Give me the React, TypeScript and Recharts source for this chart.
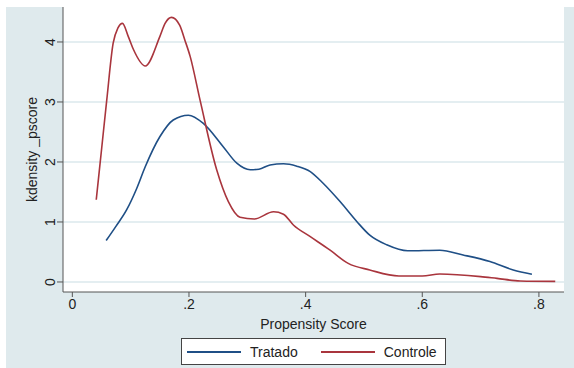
import React from "react";
import { LineChart, Line, XAxis, YAxis, CartesianGrid, Legend, Label } from "recharts";

// kernel density estimates of the propensity score, by group
const tratadoX = [0.058, 0.075, 0.093, 0.11, 0.125, 0.15, 0.173, 0.199, 0.225, 0.259, 0.282, 0.305, 0.32, 0.339, 0.362, 0.385, 0.408, 0.43, 0.459, 0.488, 0.51, 0.539, 0.575, 0.63, 0.67, 0.716, 0.756, 0.788];
const tratadoY = [0.69, 0.93, 1.2, 1.55, 1.92, 2.42, 2.7, 2.78, 2.64, 2.25, 1.98, 1.87, 1.88, 1.95, 1.97, 1.93, 1.84, 1.645, 1.34, 1.005, 0.78, 0.62, 0.52, 0.53, 0.45, 0.34, 0.2, 0.13];

const controleX = [0.041, 0.05, 0.059, 0.07, 0.078, 0.086, 0.096, 0.105, 0.125, 0.15, 0.159, 0.17, 0.184, 0.193, 0.202, 0.219, 0.2475, 0.2675, 0.2875, 0.312, 0.345, 0.362, 0.379, 0.408, 0.442, 0.473, 0.51, 0.56, 0.6, 0.63, 0.7, 0.728, 0.768, 0.828];
const controleY = [1.37, 2.2, 3.03, 3.98, 4.23, 4.31, 4.09, 3.87, 3.6, 4.09, 4.31, 4.41, 4.28, 4.03, 3.76, 3.03, 1.87, 1.34, 1.08, 1.05, 1.17, 1.13, 0.95, 0.755, 0.53, 0.31, 0.2, 0.1, 0.1, 0.133, 0.09, 0.06, 0.017, 0.01];

const xTicks = [0, 0.2, 0.4, 0.6, 0.8];
const yTicks = [0, 1, 2, 3, 4];

const seriesNames = ["Tratado", "Controle"];
const seriesColors = ["#1f4f86", "#a9353d"];

const tratado = tratadoX.map((x, i) => ({ x, y: tratadoY[i] }));
const controle = controleX.map((x, i) => ({ x, y: controleY[i] }));

const FONT = "'Liberation Sans', Arial, sans-serif";

const fmtX = (v: number) => (v === 0 ? "0" : String(v).replace(/^0/, ""));

const YTick = (props: any) => {
  const { x, y, payload } = props;
  return (
    <text
      x={x}
      y={y}
      transform={`rotate(-90 ${x} ${y})`}
      textAnchor="middle"
      fontSize={14}
      fontFamily={FONT}
      fill="#222"
    >
      {payload.value}
    </text>
  );
};

const LegendBox = () => (
  <div
    style={{
      width: 263,
      height: 25,
      background: "#fff",
      border: "1px solid #444",
      display: "flex",
      alignItems: "center",
      fontFamily: FONT,
      fontSize: 14,
      color: "#222",
      boxSizing: "content-box",
    }}
  >
    {seriesNames.map((name, i) => (
      <div key={name} style={{ display: "flex", alignItems: "center", marginLeft: i === 0 ? 5 : 23 }}>
        <div style={{ width: 54, height: 2, background: seriesColors[i] }} />
        <span style={{ marginLeft: 9 }}>{name}</span>
      </div>
    ))}
  </div>
);

export default function App() {
  return (
    <div style={{ position: "relative", width: 574, height: 368, background: "#fff" }}>
      <style>{`body{margin:0}`}</style>
      <div style={{ position: "absolute", left: 6, top: 7, width: 568, height: 361, background: "#dfeaed" }} />
      <div style={{ position: "absolute", left: 0, top: 0 }}>
        <LineChart width={574} height={368} margin={{ top: 7, right: 10, left: 23, bottom: 46 }}>
          <CartesianGrid vertical={false} stroke="#dbe8ec" strokeWidth={1.5} fill="#fff" horizontalValues={yTicks} />
          <XAxis
            type="number"
            dataKey="x"
            domain={[-0.016, 0.843]}
            ticks={xTicks}
            tickFormatter={fmtX}
            allowDataOverflow
            height={30}
            stroke="#555"
            tickSize={5}
            tick={{ fill: "#222", fontSize: 14, fontFamily: FONT }}
            tickMargin={2}
          >
            <Label value="Propensity Score" position="insideBottom" offset={-7} fill="#222" fontSize={14} fontFamily={FONT} />
          </XAxis>
          <YAxis
            type="number"
            dataKey="y"
            domain={[-0.167, 4.583]}
            ticks={yTicks}
            allowDataOverflow
            width={40}
            stroke="#555"
            tickSize={6}
            tick={<YTick />}
          >
            <Label
              value="kdensity _pscore"
              angle={-90}
              position="insideLeft"
              offset={9}
              style={{ textAnchor: "middle" }}
              fill="#222"
              fontSize={14}
              fontFamily={FONT}
            />
          </YAxis>
          <Legend
            layout="horizontal"
            verticalAlign="middle"
            align="center"
            wrapperStyle={{ position: "absolute", left: 181, top: 338, width: "auto" }}
            content={() => <LegendBox />}
          />
          <Line
            data={tratado}
            dataKey="y"
            name={seriesNames[0]}
            type="monotone"
            stroke={seriesColors[0]}
            strokeWidth={1.6}
            dot={false}
            isAnimationActive={false}
          />
          <Line
            data={controle}
            dataKey="y"
            name={seriesNames[1]}
            type="monotone"
            stroke={seriesColors[1]}
            strokeWidth={1.6}
            dot={false}
            isAnimationActive={false}
          />
        </LineChart>
      </div>
    </div>
  );
}
